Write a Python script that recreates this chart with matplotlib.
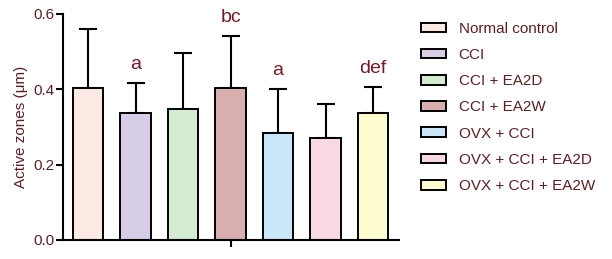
import matplotlib
matplotlib.use("Agg")
import matplotlib.pyplot as plt
from matplotlib.patches import Patch

groups = ["Normal control", "CCI", "CCI + EA2D", "CCI + EA2W",
          "OVX + CCI", "OVX + CCI + EA2D", "OVX + CCI + EA2W"]
means = [0.404, 0.336, 0.348, 0.404, 0.283, 0.270, 0.336]
sds = [0.155, 0.080, 0.149, 0.137, 0.117, 0.091, 0.069]
letters = ["", "a", "", "bc", "a", "", "def"]
colors = ["#fde9e3", "#d8cde7", "#d4ecd2", "#d8aeae", "#c9e7f8", "#f9d8e5", "#fdfdd0"]
yticks = [0.0, 0.2, 0.4, 0.6]

txt = "#5c1f22"
plt.rcParams['font.family'] = ['Liberation Sans', 'DejaVu Sans']

fig = plt.figure(figsize=(6.12, 2.59), dpi=100)
ax = fig.add_axes([0.103, 0.0734, 0.549, 0.8726])

x = list(range(len(groups)))
ax.bar(x, means, width=0.65, color=colors, edgecolor="black", linewidth=1.4, zorder=2)
ax.errorbar(x, means, yerr=[[0]*len(sds), sds], fmt="none", ecolor="black",
            elinewidth=1.5, capsize=6.5, capthick=1.5, zorder=1)
for xi, m, s, l in zip(x, means, sds, letters):
    if l:
        ax.text(xi, m + s + 0.038, l, ha="center", va="baseline", fontsize=14,
                color="#761c26")

ax.set_xlim(-0.526, 6.547)
ax.set_ylim(0, 0.6)
ax.set_yticks(yticks)
ax.set_yticklabels([f"{t:.1f}" for t in yticks], color=txt, fontsize=11)
ax.set_xticks([3])
ax.set_xticklabels([""])
ax.spines["top"].set_visible(False)
ax.spines["right"].set_visible(False)
for s in ["left", "bottom"]:
    ax.spines[s].set_linewidth(1.5)
ax.tick_params(axis="both", width=1.5, length=5, pad=1)
ax.set_ylabel("Active zones (μm)", color=txt, fontsize=11, labelpad=4)

handles = [Patch(facecolor=c, edgecolor="black", linewidth=1.4) for c in colors]
leg = fig.legend(handles, groups, loc="upper left", bbox_to_anchor=(0.665, 0.969),
                 frameon=False, fontsize=11, handlelength=1.63, handleheight=0.6,
                 labelspacing=0.8, handletextpad=0.85)
for t in leg.get_texts():
    t.set_color(txt)

fig.savefig("out.png", dpi=100)
